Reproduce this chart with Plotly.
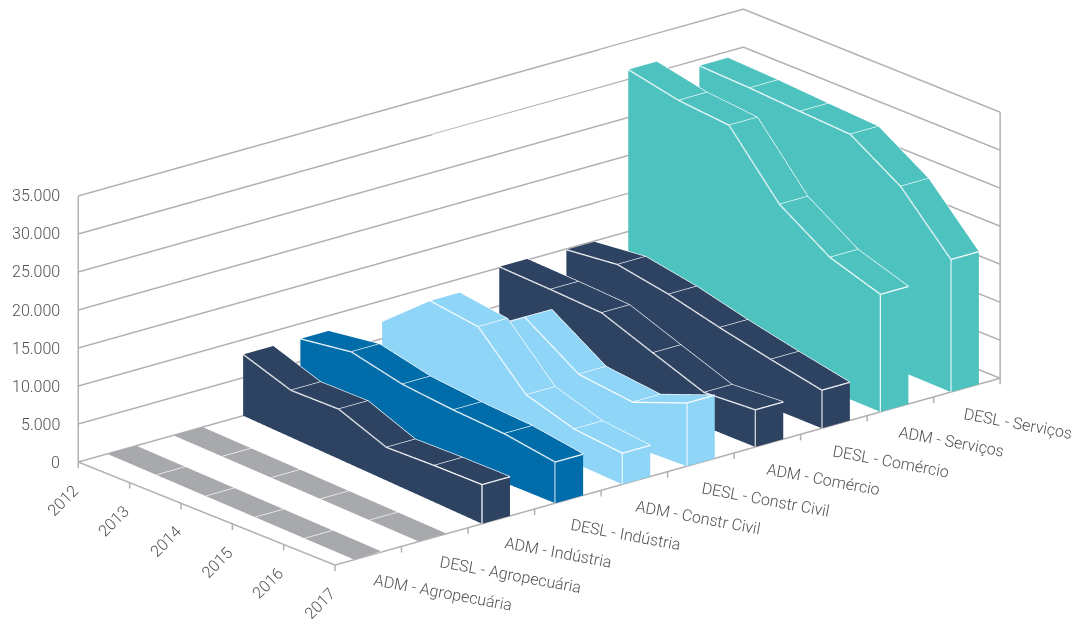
import plotly.graph_objects as go

years = [2012, 2013, 2014, 2015, 2016, 2017]
categories = ["ADM - Agropecuária", "DESL - Agropecuária", "ADM - Indústria", "DESL - Indústria",
              "ADM - Constr Civil", "DESL - Constr Civil", "ADM - Comércio", "DESL - Comércio",
              "ADM - Serviços", "DESL - Serviços"]
adm_agro = [0, 0, 0, 0, 0, 0]
desl_agro = [0, 0, 0, 0, 0, 0]
adm_ind = [8060, 6180, 6550, 4360, 4820, 5150]
desl_ind = [8000, 9000, 7480, 6820, 6420, 5420]
adm_constr = [7210, 12800, 12230, 6100, 4440, 4100]
desl_constr = [7000, 7200, 11760, 6870, 5810, 8320]
adm_com = [10130, 9860, 9500, 6950, 4450, 4890]
desl_com = [9890, 10660, 9470, 7800, 6340, 5020]
adm_serv = [31300, 29990, 29460, 21800, 17570, 15460]
desl_serv = [29170, 29000, 28670, 28400, 24300, 17440]
series = [adm_agro, desl_agro, adm_ind, desl_ind, adm_constr, desl_constr, adm_com, desl_com, adm_serv, desl_serv]
z_ticks = [0, 5000, 10000, 15000, 20000, 25000, 30000, 35000]
z_labels = ["0", "5.000", "10.000", "15.000", "20.000", "25.000", "30.000", "35.000"]

GREY, NAVY, BLUE, LIGHT, TEAL = "#a7a9ac", "#2d4361", "#006ca9", "#8fd5f7", "#4dc2bf"
colors = [GREY, GREY, NAVY, BLUE, LIGHT, LIGHT, NAVY, NAVY, TEAL, TEAL]
ribbon_width = 0.42
front_offset = [.29, .26, .21, .31, .32, .29, .32, .32, .20, .26]
lean = [.146, .17, .27, .03, .25, -.2, .01, .02, .07, .08]
FRAME = "#b0b0b2"
TEXT = "#4f5052"
FONT = dict(family="Roboto", size=16, color=TEXT, weight=300)
TICK_DROP = -800
Z_TOP = 35100
X_PAD, Y_PAD = 0.02, 0.01

fig = go.Figure()
for i, vals in enumerate(series):
    xl = [i + front_offset[i] + lean[i] * (2017 - y) / 5 for y in years]
    xr = [a + ribbon_width + lean[i] * (2017 - y) / 5 * 0.12 for a, y in zip(xl, years)]
    n = len(years)
    X = xl + xr + xl + xr
    Y = years * 4
    Z = list(vals) + list(vals) + [0] * n + [0] * n
    I, J, K = [], [], []
    def quad(a, b, c, d):
        I.extend([a, a]); J.extend([b, c]); K.extend([c, d])
    for t in range(n - 1):
        quad(t, t + 1, n + t + 1, n + t)                    # top strip
        quad(2 * n + t, 2 * n + t + 1, t + 1, t)            # left wall
        quad(3 * n + t, 3 * n + t + 1, n + t + 1, n + t)    # right wall
    quad(n - 1, n + n - 1, 3 * n + n - 1, 2 * n + n - 1)    # front cap
    quad(0, n, 3 * n, 2 * n)                                # back cap
    fig.add_trace(go.Mesh3d(x=X, y=Y, z=Z, i=I, j=J, k=K, color=colors[i], opacity=1,
                            flatshading=True, hoverinfo="skip",
                            lighting=dict(ambient=1, diffuse=0, specular=0, roughness=1, fresnel=0)))
    lx, ly, lz = [], [], []
    if max(vals) > 0:
        lx += xl + [None] + xr + [None]
        ly += years + [None] + years + [None]
        lz += list(vals) + [None] + list(vals) + [None]
    for t in range(1, n):
        lx += [xl[t], xr[t], None]
        ly += [years[t], years[t], None]
        lz += [vals[t], vals[t], None]
    if max(vals) > 0:
        lx += [xl[-1], xl[-1], None]
        ly += [2017, 2017, None]
        lz += [vals[-1], 0, None]
    fig.add_trace(go.Scatter3d(x=lx, y=ly, z=lz, mode="lines", hoverinfo="skip", showlegend=False,
                               line=dict(color="white", width=2.6)))

# frame edges, grid and tick marks
fx = [0, 0, None, 10, 10, None, 0, 0, 10, None]
fy = [2012, 2012, None, 2017, 2017, None, 2012, 2017, 2017, None]
fz = [TICK_DROP, 35000, None, TICK_DROP, 35000, None, 0, 0, 0, None]
for c in range(0, 10):
    fx += [c, c, None]; fy += [2017, 2017, None]; fz += [0, TICK_DROP, None]
for y in years[1:]:
    fx += [0, 0, None]; fy += [y, y, None]; fz += [0, TICK_DROP, None]
for z in z_ticks:
    fx += [0, 10, 10, None]; fy += [2012, 2012, 2017, None]; fz += [z, z, z, None]
fig.add_trace(go.Scatter3d(x=fx, y=fy, z=fz, mode="lines", hoverinfo="skip", showlegend=False,
                           line=dict(color=FRAME, width=3)))

annotations = []
for c, name in enumerate(categories):
    annotations.append(dict(x=c * 0.985 + 0.5, y=2017, z=0, text=name, showarrow=False, textangle=10.5, font=FONT,
                            xanchor="left", yanchor="top", xshift=2, yshift=-12))
for y in years:
    annotations.append(dict(x=0, y=y, z=0, text=str(y), showarrow=False, textangle=-45, font=FONT,
                            xanchor="right", yanchor="top", xshift=7, yshift=-16))
for z, lab in zip(z_ticks, z_labels):
    annotations.append(dict(x=0, y=2012, z=z, text=lab, showarrow=False, font=FONT,
                            xanchor="right", yanchor="middle", xshift=-16))

dir_ = (-0.605, -0.723, 0.336)
r = 6.0
k = 1.293
cen = (-0.0054, 0.0046, -0.0677)
fig.update_layout(
    width=1074, height=619, margin=dict(l=0, r=0, t=0, b=0), showlegend=False,
    paper_bgcolor="white",
    scene=dict(
        domain=dict(x=[0, 1], y=[0, 1]),
        aspectmode="manual",
        aspectratio=dict(x=2.167 * k * (10 + 2 * X_PAD) / 10, y=1 * k * (5 + 2 * Y_PAD) / 5,
                         z=0.703 * 1.004 * k * (Z_TOP - TICK_DROP) / 35000),
        camera=dict(projection=dict(type="orthographic"), up=dict(x=0, y=0, z=1),
                    center=dict(x=cen[0], y=cen[1], z=cen[2]),
                    eye=dict(x=cen[0] + dir_[0] * r, y=cen[1] + dir_[1] * r, z=cen[2] + dir_[2] * r)),
        xaxis=dict(range=[-X_PAD, 10 + X_PAD], showgrid=False, zeroline=False, showbackground=False, showticklabels=False,
                   title="", tickvals=list(range(11)), ticks="", showspikes=False),
        yaxis=dict(range=[2017 + Y_PAD, 2012 - Y_PAD], showgrid=False, zeroline=False, showbackground=False, showticklabels=False,
                   title="", tickvals=years, ticks="", showspikes=False),
        zaxis=dict(range=[TICK_DROP, Z_TOP], showgrid=False, zeroline=False, showbackground=False,
                   showticklabels=False, title="", tickvals=z_ticks, showspikes=False),
        annotations=annotations,
    ),
)
fig.write_html("out.html", config={"displayModeBar": False},
               post_script="document.body.style.margin='0';document.body.style.overflow='hidden';")
